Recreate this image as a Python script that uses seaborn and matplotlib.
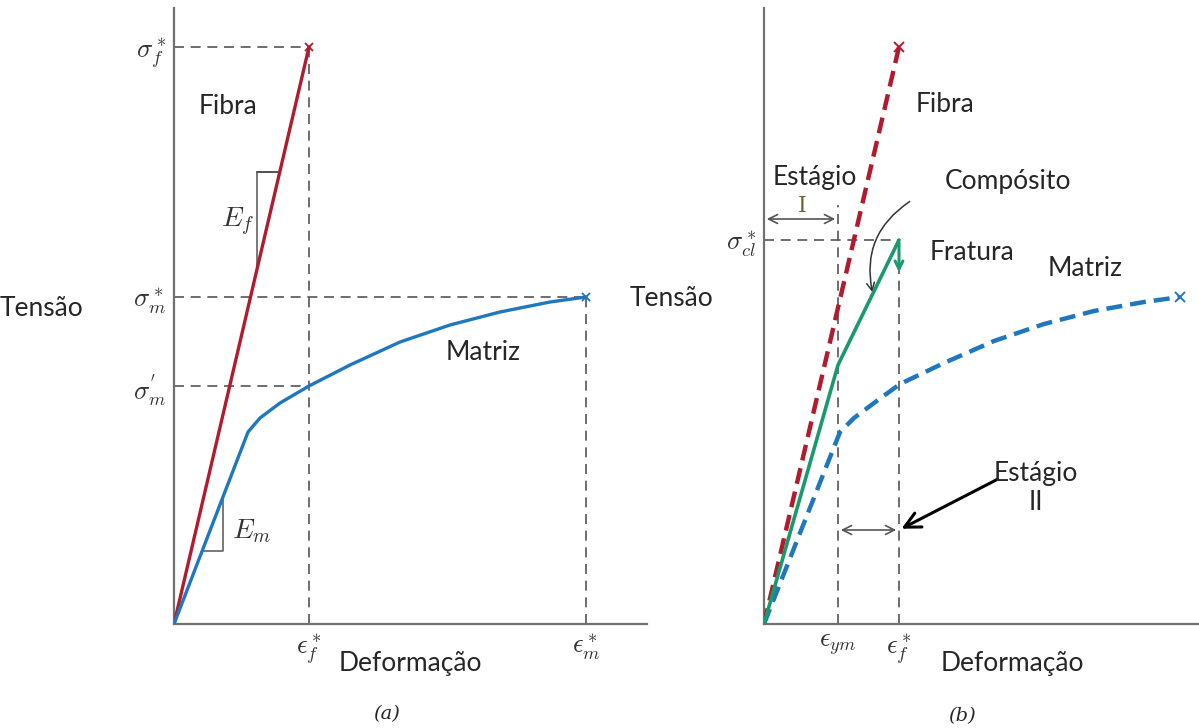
import numpy as np
import pandas as pd
import seaborn as sns
import matplotlib.pyplot as plt

sns.set_theme(style='white')
plt.rcParams['font.family'] = ['Lato', 'DejaVu Sans']
plt.rcParams['mathtext.fontset'] = 'cm'

## values (arbitrary units: strain, stress)
eps_f = 135
sig_f = 577
eps_m = 412
sig_m = 327
sig_m_prime = 238

fibra_a_x = [0, eps_f]
fibra_a_y = [0, sig_f]
matriz_a_x = [0, 74, 86, 106, 135, 176, 226, 276, 326, 376, 412]
matriz_a_y = [0, 192, 206, 221, 238, 259, 282, 299, 312, 322, 327]

eps_ym = 74
eps_f_b = 135
sig_cl = 384
fibra_b_x = [0, 135]
fibra_b_y = [0, 577]
comp_b_x = [0, 74, 135]
comp_b_y = [0, 259, 384]
matriz_b_x = [0, 76, 90, 110, 136, 180, 230, 280, 330, 380, 416]
matriz_b_y = [0, 192, 206, 221, 240, 261, 283, 300, 313, 322, 327]

RED = '#b01c2e'
BLUE = '#1f78bd'
GREEN = '#1a9a6c'
GRAY = '#555555'
SPINE = '#707070'
FS = 19

fig = plt.figure(figsize=(11.99, 7.28), dpi=100)
W, H = 1199, 728
ax1 = fig.add_axes([174/W, (H-624)/H, 473/W, 616/H])
ax2 = fig.add_axes([764/W, (H-624)/H, 435/W, 616/H])

for ax, xmax in [(ax1, 473), (ax2, 435)]:
    ax.set_xlim(0, xmax)
    ax.set_ylim(0, 616)
    ax.patch.set_alpha(0)
    for s in ['top', 'right']:
        ax.spines[s].set_visible(False)
    for s in ['left', 'bottom']:
        ax.spines[s].set_color(SPINE)
        ax.spines[s].set_linewidth(1.6)
    ax.tick_params(length=0, labelsize=19, pad=6)

def dash_line(ax, xs, ys):
    ax.plot(xs, ys, color=GRAY, lw=1.2, dashes=(6, 4), zorder=1)

## ---- (a)
dash_line(ax1, [0, eps_f], [sig_f, sig_f])
dash_line(ax1, [eps_f, eps_f], [0, sig_f])
dash_line(ax1, [0, eps_m], [sig_m, sig_m])
dash_line(ax1, [eps_m, eps_m], [0, sig_m])
dash_line(ax1, [0, eps_f], [sig_m_prime, sig_m_prime])

df_fa = pd.DataFrame({'x': fibra_a_x, 'y': fibra_a_y})
df_ma = pd.DataFrame({'x': matriz_a_x, 'y': matriz_a_y})
sns.lineplot(data=df_fa, x='x', y='y', ax=ax1, color=RED, lw=2.4, sort=False, zorder=3)
sns.lineplot(data=df_ma, x='x', y='y', ax=ax1, color=BLUE, lw=2.4, sort=False, zorder=3)
ax1.plot([eps_f], [sig_f], marker='x', color=RED, ms=6, mew=1.3, clip_on=False)
ax1.plot([eps_m], [sig_m], marker='x', color=BLUE, ms=6, mew=1.3, clip_on=False)

# slope triangles
ax1.plot([83, 106, 83, 83], [452, 452, 452, 355], color=GRAY, lw=1.1, zorder=2)
ax1.plot([28, 49, 49], [73, 73, 127], color=GRAY, lw=1.1, zorder=2)
ax1.text(64, 402, r'$E_f$', fontsize=20, ha='center', va='center', color='#333333')
ax1.text(78, 93, r'$E_m$', fontsize=20, ha='center', va='center', color='#333333')

ax1.set_yticks([sig_m_prime, sig_m, sig_f])
ax1.set_yticklabels([r"$\sigma_m^{'}$", r'$\sigma_m^*$', r'$\sigma_f^*$'], color='#333333')
ax1.set_xticks([eps_f, eps_m])
ax1.set_xticklabels([r'$\epsilon_f^*$', r'$\epsilon_m^*$'], color='#333333')
ax1.set_xlabel('')
ax1.set_ylabel('')

ax1.text(54, 518, 'Fibra', fontsize=FS, ha='center', va='center')
ax1.text(309, 271, 'Matriz', fontsize=FS, ha='center', va='center')

## ---- (b)
dash_line(ax2, [0, eps_f_b], [sig_cl, sig_cl])
dash_line(ax2, [eps_ym, eps_ym], [0, 419])
dash_line(ax2, [eps_f_b, eps_f_b], [0, sig_cl])

df_fb = pd.DataFrame({'x': fibra_b_x, 'y': fibra_b_y})
df_mb = pd.DataFrame({'x': matriz_b_x, 'y': matriz_b_y})
df_cb = pd.DataFrame({'x': comp_b_x, 'y': comp_b_y})
sns.lineplot(data=df_fb, x='x', y='y', ax=ax2, color=RED, lw=3.2, sort=False, zorder=3)
sns.lineplot(data=df_mb, x='x', y='y', ax=ax2, color=BLUE, lw=3.2, sort=False, zorder=3)
ax2.lines[-2].set_dashes((3.6, 1.8))
ax2.lines[-1].set_dashes((3.6, 1.8))
sns.lineplot(data=df_cb, x='x', y='y', ax=ax2, color=GREEN, lw=2.6, sort=False, zorder=4)
ax2.plot([fibra_b_x[-1]], [fibra_b_y[-1]], marker='x', color=RED, ms=7, mew=1.4, clip_on=False)
ax2.plot([matriz_b_x[-1]], [matriz_b_y[-1]], marker='x', color=BLUE, ms=7, mew=1.4, clip_on=False)
ax2.annotate('', xy=(eps_f_b, 349), xytext=(eps_f_b, sig_cl),
             arrowprops=dict(arrowstyle='->', color=GREEN, lw=2.2, mutation_scale=14), zorder=5)

# stage arrows
ax2.annotate('', xy=(0, 405), xytext=(eps_ym, 405),
             arrowprops=dict(arrowstyle='<->', color=GRAY, lw=1.2, mutation_scale=16))
ax2.text(38, 418, 'I', fontsize=16, ha='center', va='center', family='DejaVu Serif', color='#666633')
ax2.annotate('', xy=(eps_ym, 94), xytext=(eps_f_b, 94),
             arrowprops=dict(arrowstyle='<->', color=GRAY, lw=1.2, mutation_scale=16))
ax2.annotate('', xy=(eps_f_b, 94), xytext=(236, 146),
             arrowprops=dict(arrowstyle='->', color='black', lw=2.2, mutation_scale=28))
ax2.annotate('', xy=(109, 329), xytext=(148, 424),
             arrowprops=dict(arrowstyle='->', color='#333333', lw=1.1, mutation_scale=14,
                             connectionstyle='arc3,rad=0.35'))

ax2.set_yticks([sig_cl])
ax2.set_yticklabels([r'$\sigma_{cl}^*$'], color='#333333')
ax2.set_xticks([eps_ym, eps_f_b])
ax2.set_xticklabels([r'$\epsilon_{ym}$', r'$\epsilon_f^*$'], color='#333333')
ax2.set_xlabel('')
ax2.set_ylabel('')

ax2.text(181, 519, 'Fibra', fontsize=FS, ha='center', va='center')
ax2.text(51, 446, 'Estágio', fontsize=FS, ha='center', va='center')
ax2.text(244, 442, 'Compósito', fontsize=FS, ha='center', va='center')
ax2.text(208, 371, 'Fratura', fontsize=FS, ha='center', va='center')
ax2.text(321, 356, 'Matriz', fontsize=FS, ha='center', va='center')
ax2.text(272, 136, 'Estágio\nII', fontsize=FS, ha='center', va='center', linespacing=1.25)

## figure-level labels
fig.text(42/W, 1-308/H, 'Tensão', fontsize=FS, ha='center', va='center')
fig.text(672/W, 1-298/H, 'Tensão', fontsize=FS, ha='center', va='center')
fig.text(410/W, 1-664/H, 'Deformação', fontsize=FS, ha='center', va='center')
fig.text(1012/W, 1-664/H, 'Deformação', fontsize=FS, ha='center', va='center')
fig.text(387/W, 1-714/H, '(a)', fontsize=14, ha='center', va='center', family='DejaVu Serif', style='italic')
fig.text(962/W, 1-716/H, '(b)', fontsize=14, ha='center', va='center', family='DejaVu Serif', style='italic')

fig.savefig('out.png', dpi=100)
